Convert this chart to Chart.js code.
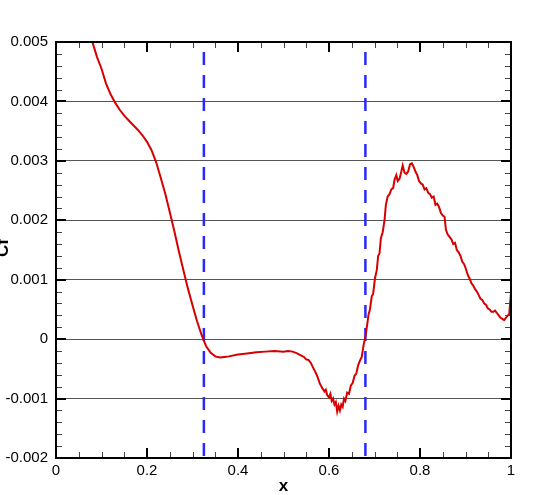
<!DOCTYPE html>
<html>
<head>
<meta charset="utf-8">
<script src="https://cdn.jsdelivr.net/npm/chart.js@4"></script>
<style>
  html, body { margin: 0; padding: 0; background: #fff; }
  #wrap { width: 538px; height: 495px; }
</style>
</head>
<body>
<div id="wrap"><canvas id="cf"></canvas></div>
<script>
// skin friction along x
const xValues = [
  0.075, 0.080, 0.090, 0.100, 0.110, 0.120, 0.130, 0.140, 0.150, 0.160,
  0.170, 0.180, 0.190, 0.200, 0.210, 0.220, 0.230, 0.240, 0.250, 0.260,
  0.270, 0.280, 0.290, 0.300, 0.310, 0.320, 0.330, 0.340, 0.350, 0.360,
  0.370, 0.380, 0.400, 0.420, 0.440, 0.460, 0.480, 0.500, 0.510, 0.520,
  0.530, 0.540, 0.545, 0.550, 0.555, 0.560, 0.565, 0.570, 0.575, 0.580,
  0.585, 0.590, 0.593, 0.596, 0.600, 0.603, 0.606, 0.609, 0.612, 0.615,
  0.618, 0.621, 0.624, 0.627, 0.630, 0.633, 0.636, 0.640, 0.644, 0.648,
  0.652, 0.656, 0.660, 0.664, 0.668, 0.672, 0.676, 0.680, 0.684, 0.687,
  0.690, 0.694, 0.697, 0.701, 0.705, 0.708, 0.711, 0.714, 0.718, 0.722,
  0.725, 0.729, 0.733, 0.737, 0.741, 0.744, 0.748, 0.751, 0.755, 0.759,
  0.762, 0.766, 0.770, 0.774, 0.778, 0.782, 0.786, 0.790, 0.794, 0.798,
  0.802, 0.806, 0.810, 0.814, 0.818, 0.822, 0.826, 0.830, 0.834, 0.838,
  0.842, 0.846, 0.850, 0.854, 0.857, 0.861, 0.865, 0.869, 0.873, 0.877,
  0.881, 0.885, 0.889, 0.893, 0.897, 0.901, 0.905, 0.909, 0.913, 0.917,
  0.921, 0.925, 0.929, 0.933, 0.937, 0.941, 0.945, 0.949, 0.953, 0.957,
  0.961, 0.965, 0.969, 0.973, 0.977, 0.981, 0.985, 0.989, 0.993, 0.996,
  0.998, 1.000
];
const cfValues = [
  0.00520, 0.00500, 0.00475, 0.00455, 0.00430, 0.00412, 0.00398, 0.00386, 0.00376, 0.00368,
  0.00360, 0.00352, 0.00343, 0.00332, 0.00318, 0.00298, 0.00272, 0.00245, 0.00214, 0.00182,
  0.00148, 0.00116, 0.00085, 0.00057, 0.00030, 0.00007, -0.00012, -0.00023, -0.00029, -0.00031,
  -0.00030, -0.00029, -0.00026, -0.00024, -0.00022, -0.00021, -0.00020, -0.00021, -0.00020, -0.00021,
  -0.00024, -0.00028, -0.00030, -0.00034, -0.00035, -0.00040, -0.00048, -0.00055, -0.00064, -0.00075,
  -0.00082, -0.00088, -0.00085, -0.00094, -0.00098, -0.00092, -0.00104, -0.00100, -0.00110, -0.00106,
  -0.00122, -0.00112, -0.00120, -0.00110, -0.00114, -0.00100, -0.00104, -0.00090, -0.00092, -0.00078,
  -0.00074, -0.00062, -0.00058, -0.00044, -0.00036, -0.00030, -0.00010, 0.00004, 0.00025, 0.00042,
  0.00050, 0.00072, 0.00076, 0.00102, 0.00116, 0.00140, 0.00144, 0.00170, 0.00180, 0.00200,
  0.00226, 0.00240, 0.00244, 0.00252, 0.00254, 0.00268, 0.00276, 0.00266, 0.00270, 0.00282,
  0.00292, 0.00280, 0.00278, 0.00282, 0.00294, 0.00296, 0.00290, 0.00282, 0.00276, 0.00266,
  0.00262, 0.00260, 0.00252, 0.00254, 0.00246, 0.00244, 0.00238, 0.00240, 0.00226, 0.00228,
  0.00222, 0.00212, 0.00208, 0.00206, 0.00184, 0.00176, 0.00172, 0.00168, 0.00160, 0.00162,
  0.00150, 0.00146, 0.00140, 0.00130, 0.00126, 0.00118, 0.00108, 0.00102, 0.00094, 0.00090,
  0.00084, 0.00080, 0.00074, 0.00068, 0.00066, 0.00060, 0.00058, 0.00052, 0.00050, 0.00046,
  0.00046, 0.00048, 0.00044, 0.00040, 0.00036, 0.00034, 0.00032, 0.00036, 0.00040, 0.00042,
  0.00060, 0.00078
];
// vertical dashed markers
const markerXs = [0.325, 0.68];

const yTicks = [-0.002, -0.001, 0, 0.001, 0.002, 0.003, 0.004, 0.005];
const xTicks = [0, 0.2, 0.4, 0.6, 0.8, 1];

const Y_MIN = yTicks[0], Y_MAX = yTicks[yTicks.length - 1];

const datasets = [{
  label: 'Cf',
  data: xValues.map((x, i) => ({ x, y: cfValues[i] })),
  borderColor: 'rgb(214, 0, 0)',
  borderWidth: 2,
  pointRadius: 0,
  showLine: true,
  tension: 0,
  clip: 1,
}];
markerXs.forEach(mx => {
  datasets.push({
    label: 'marker',
    data: [{ x: mx, y: Y_MAX }, { x: mx, y: Y_MIN }],
    borderColor: 'rgb(40, 40, 255)',
    borderWidth: 2.5,
    borderDash: [13, 10],
    borderDashOffset: 13,
    pointRadius: 0,
    showLine: true,
  });
});

// frame, inward ticks (major + minor) and clipped y title
const frameTicks = {
  id: 'frameTicks',
  afterDraw(chart) {
    const { ctx, chartArea: a, scales } = chart;
    const xs = scales.x, ys = scales.y;
    ctx.save();
    ctx.strokeStyle = '#000';

    // minor ticks
    ctx.lineWidth = 1;
    ctx.strokeStyle = '#444';
    ctx.beginPath();
    for (let i = 0; i < yTicks.length - 1; i++) {
      const step = (yTicks[i + 1] - yTicks[i]) / 5;
      for (let k = 1; k < 5; k++) {
        const py = Math.round(ys.getPixelForValue(yTicks[i] + k * step)) + 0.5;
        ctx.moveTo(a.left, py); ctx.lineTo(a.left + 6, py);
        ctx.moveTo(a.right, py); ctx.lineTo(a.right - 6, py);
      }
    }
    for (let i = 0; i < xTicks.length - 1; i++) {
      const step = (xTicks[i + 1] - xTicks[i]) / 4;
      for (let k = 1; k < 4; k++) {
        const px = Math.round(xs.getPixelForValue(xTicks[i] + k * step)) + 0.5;
        ctx.moveTo(px, a.bottom); ctx.lineTo(px, a.bottom - 6);
        ctx.moveTo(px, a.top); ctx.lineTo(px, a.top + 6);
      }
    }
    ctx.stroke();

    // major ticks
    ctx.lineWidth = 2;
    ctx.strokeStyle = '#000';
    ctx.beginPath();
    yTicks.forEach(v => {
      const py = Math.round(ys.getPixelForValue(v));
      ctx.moveTo(a.left, py); ctx.lineTo(a.left + 10, py);
      ctx.moveTo(a.right, py); ctx.lineTo(a.right - 10, py);
    });
    xTicks.forEach(v => {
      const px = Math.round(xs.getPixelForValue(v));
      ctx.moveTo(px, a.bottom); ctx.lineTo(px, a.bottom - 10);
      ctx.moveTo(px, a.top); ctx.lineTo(px, a.top + 10);
    });
    ctx.stroke();

    // frame
    ctx.lineWidth = 2;
    ctx.strokeRect(a.left, a.top, a.right - a.left, a.bottom - a.top);

    // y title, partly off the left edge as in the original
    ctx.translate(8, 248);
    ctx.rotate(-Math.PI / 2);
    ctx.font = 'bold 17px "Liberation Sans", Arial, sans-serif';
    ctx.fillStyle = '#000';
    ctx.textAlign = 'center';
    ctx.textBaseline = 'alphabetic';
    ctx.fillText('Cf', 0, 0);
    ctx.restore();
  }
};

const tickFont = { family: '"Liberation Sans", Arial, sans-serif', size: 15 };

new Chart(document.getElementById('cf'), {
  type: 'scatter',
  data: { datasets },
  options: {
    responsive: true,
    maintainAspectRatio: false,
    animation: false,
    layout: { padding: { left: 0, top: 42, right: 27, bottom: 0 } },
    plugins: {
      legend: { display: false },
      tooltip: { enabled: false },
    },
    scales: {
      x: {
        type: 'linear',
        min: 0,
        max: 1,
        afterBuildTicks: s => { s.ticks = xTicks.map(v => ({ value: v })); },
        afterFit: s => { s.height = 37; },
        grid: { display: false, drawTicks: false },
        border: { display: false },
        ticks: {
          color: '#000',
          font: tickFont,
          padding: 4,
          maxRotation: 0,
          callback: v => String(v),
        },
        title: {
          display: true,
          text: 'x',
          color: '#000',
          font: { family: '"Liberation Sans", Arial, sans-serif', size: 17, weight: 'bold', lineHeight: 1 },
          padding: 0,
        },
      },
      y: {
        type: 'linear',
        min: Y_MIN,
        max: Y_MAX,
        afterBuildTicks: s => { s.ticks = yTicks.map(v => ({ value: v })); },
        afterFit: s => { s.width = 56; },
        grid: { color: '#555', lineWidth: 1, drawTicks: false },
        border: { display: false },
        ticks: {
          color: '#000',
          font: tickFont,
          padding: 8,
          callback: v => (Math.abs(v) < 1e-12 ? '0' : v.toFixed(3)),
        },
      },
    },
  },
  plugins: [frameTicks],
});
</script>
</body>
</html>
